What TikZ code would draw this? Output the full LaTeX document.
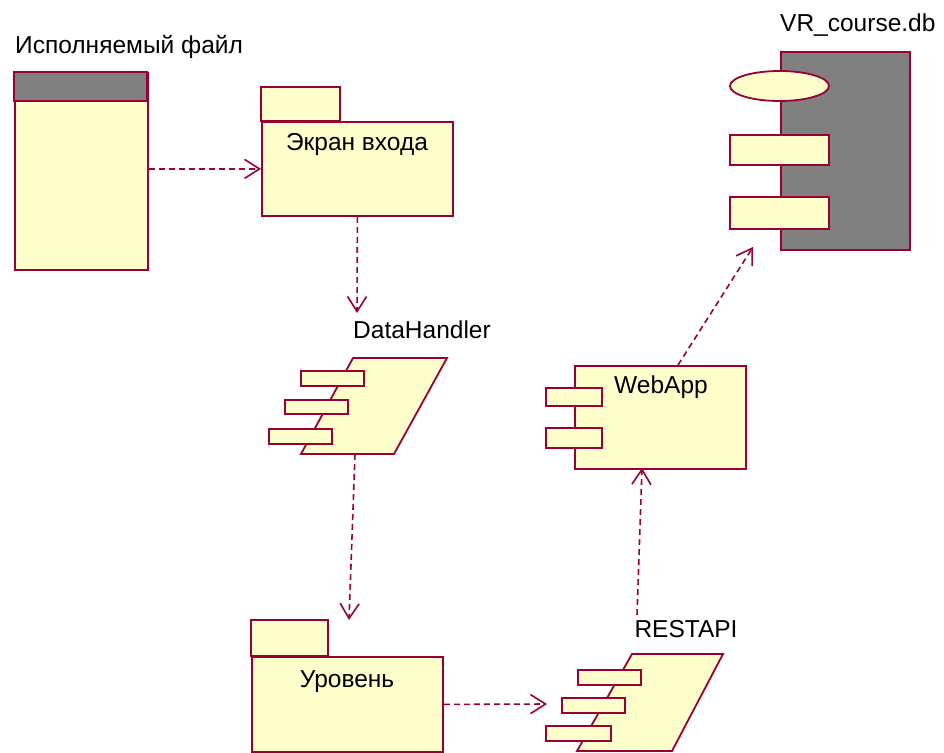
\documentclass[tikz,border=0pt]{standalone}
\usepackage{fontspec}
\setmainfont{Liberation Sans}
\usetikzlibrary{arrows.meta}
\definecolor{edge}{HTML}{990033}
\definecolor{yfill}{HTML}{FFFFCC}
\definecolor{hgray}{HTML}{808080}
\tikzset{
  shp/.style={draw=edge, fill=yfill, line width=1.8pt},
  box/.style={shp, inner sep=0pt, anchor=north west},
  lbl/.style={font=\fontsize{24.5}{28}\selectfont, text=black, inner sep=0pt, anchor=base},
  dep/.style={draw=edge, line width=1.6pt, dash pattern=on 6pt off 4pt,
    -{Straight Barb[length=15pt,width=19pt,line width=1.6pt]}},
}
\begin{document}
\begin{tikzpicture}[x=1pt,y=-1pt]
\useasboundingbox (0,0) rectangle (944,752);
\fill[white] (0,0) rectangle (944,752);

% Executable file
\node[lbl, anchor=base west] (exelbl) at (15,53) {Исполняемый файл};
\node[box, minimum width=133pt, minimum height=197pt] (exe) at (14,72) {};
\draw[draw=edge, fill=hgray, line width=1.8pt] (14,72) rectangle (147,101);

% Package: Экран входа
\draw[shp] (261,87) rectangle (340,121);
\node[box, minimum width=191pt, minimum height=94pt] (ekran) at (261,121) {};
\node[lbl] (ekranlbl) at (357,150) {Экран входа};

% DataHandler component
\node[lbl] (dhlbl) at (422,338) {DataHandler};
\coordinate (dhin) at (357,313);
\draw[shp] (353,358) -- (447,358) -- (394,454) -- (301,454) -- cycle;
\draw[shp] (301,371) rectangle (364,386);
\draw[shp] (285,400) rectangle (348,414);
\draw[shp] (269,429) rectangle (332,444);
\coordinate (dhout) at (355,454);

% Package: Уровень
\draw[shp] (251,620) rectangle (328,656);
\node[box, minimum width=191pt, minimum height=95pt] (lvl) at (251,656) {};
\node[lbl] (lvllbl) at (347,687) {Уровень};
\coordinate (lvlin) at (349,620);

% RESTAPI component
\node[lbl] (restlbl) at (686,637) {RESTAPI};
\draw[shp] (632,654) -- (723,654) -- (672,751) -- (577,751) -- cycle;
\draw[shp] (578,670) rectangle (641,685);
\draw[shp] (562,698) rectangle (625,713);
\draw[shp] (546,726) rectangle (611,741);
\coordinate (restin) at (547,704);
\coordinate (restout) at (637,615);

% WebApp component
\node[box, minimum width=171pt, minimum height=103pt] (web) at (574,365) {};
\draw[shp] (546,388) rectangle (602,406);
\draw[shp] (546,428) rectangle (602,448);
\node[lbl] (weblbl) at (661,393) {WebApp};
\coordinate (webbot) at (642,468);
\coordinate (webtop) at (678,365);

% VR_course.db
\node[lbl, anchor=base west] (dblbl) at (780,32) {VR\_course.db};
\node[draw=edge, fill=hgray, line width=1.8pt, inner sep=0pt, anchor=north west,
  minimum width=129pt, minimum height=198pt] (db) at (780,51) {};
\draw[shp] (779.5,86) ellipse (49.5pt and 15pt);
\draw[shp] (730,135) rectangle (829,165);
\draw[shp] (730,197) rectangle (829,229);
\coordinate (dbin) at (753,247);

% Dependencies
\draw[dep] (exe.east |- ekran.west) -- (ekran.west);
\draw[dep] (ekran.south) -- (dhin);
\draw[dep] (dhout) -- (lvlin);
\draw[dep] (lvl.east) -- (restin);
\draw[dep] (restout) -- (webbot);
\draw[dep] (webtop) -- (dbin);
\end{tikzpicture}
\end{document}
